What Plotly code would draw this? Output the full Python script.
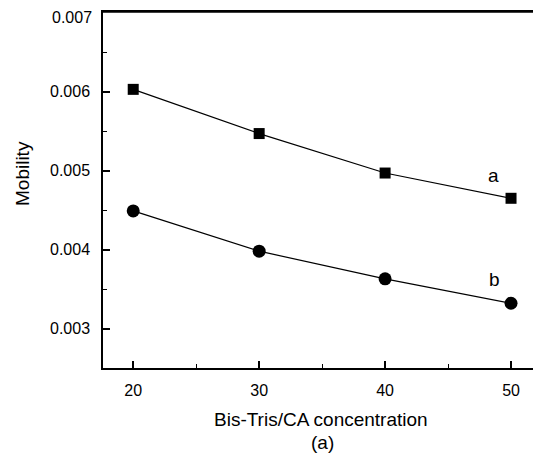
import plotly.graph_objects as go

conc = [20, 30, 40, 50]
mobility_a = [0.00603, 0.00547, 0.00497, 0.00465]
mobility_b = [0.00449, 0.00398, 0.00363, 0.00332]
x_ticks = [20, 30, 40, 50]
y_ticks = [0.003, 0.004, 0.005, 0.006, 0.007]
y_tick_text = ["0.003", "0.004", "0.005", "0.006", ""]
top_label = "0.007"

FONT = "Liberation Sans, Arial, sans-serif"
OFF = 8  # page body margin
L, R, T, B = 103 - OFF, 540 - OFF, 12 - OFF, 368 - OFF
W, H = 541 - OFF, 463 - OFF
pw, ph = R - L, B - T

def px(xp):
    return (xp - OFF - L) / pw

def py(yp):
    return (B - (yp - OFF)) / ph

fig = go.Figure()
fig.add_trace(go.Scatter(x=conc, y=mobility_a, mode="lines+markers", name="a",
                         line=dict(color="black", width=1.2),
                         marker=dict(symbol="square", size=11, color="black")))
fig.add_trace(go.Scatter(x=conc, y=mobility_b, mode="lines+markers", name="b",
                         line=dict(color="black", width=1.2),
                         marker=dict(symbol="circle", size=13, color="black")))

fig.add_annotation(x=48.6, y=0.00494, text="a", showarrow=False,
                   font=dict(size=19, color="black", family=FONT))
fig.add_annotation(x=48.7, y=0.00362, text="b", showarrow=False,
                   font=dict(size=19, color="black", family=FONT))

fig.update_layout(
    width=W, height=H,
    margin=dict(l=L, r=W - R, t=T, b=H - B, autoexpand=False),
    paper_bgcolor="white", plot_bgcolor="white",
    showlegend=False,
    font=dict(family=FONT, size=16, color="black"),
)
fig.update_xaxes(range=[17.6, 52.3], tickvals=x_ticks, ticks="inside", ticklen=7,
                 tickcolor="black", tickwidth=1.5, showline=True, linecolor="black",
                 linewidth=1.5, mirror=True, showgrid=False, zeroline=False,
                 ticklabelstandoff=7, automargin=False, ticklabeloverflow="allow",
                 minor=dict(dtick=5, ticks="inside", ticklen=4, tickcolor="black", tickwidth=1.2))
fig.update_yaxes(range=[0.0025, 0.00701], tickvals=y_ticks, ticktext=y_tick_text,
                 ticks="inside", ticklen=7, tickcolor="black", tickwidth=1.5,
                 showline=True, linecolor="black", linewidth=1.5, mirror=True,
                 showgrid=False, zeroline=False, ticklabelstandoff=8, automargin=False,
                 ticklabeloverflow="allow",
                 minor=dict(dtick=0.0005, ticks="inside", ticklen=4, tickcolor="black", tickwidth=1.2))

# plot frame (top and right edges)
fig.add_shape(type="line", xref="paper", yref="paper", x0=0, x1=1, y0=1, y1=1,
              line=dict(color="black", width=1.5))
fig.add_shape(type="line", xref="paper", yref="paper", x0=1, x1=1, y0=0, y1=1,
              line=dict(color="#555555", width=1))

# top tick label placed slightly lower so it is not clipped by the page edge
fig.add_annotation(xref="paper", yref="paper", x=px(94), y=py(17.5),
                   text=top_label, showarrow=False, xanchor="right", yanchor="middle",
                   font=dict(size=16, family=FONT, color="black"))

fig.add_annotation(xref="paper", yref="paper", x=px(321), y=py(420),
                   text="Bis-Tris/CA concentration", showarrow=False,
                   xanchor="center", yanchor="middle",
                   font=dict(size=19, family=FONT, color="black"))
fig.add_annotation(xref="paper", yref="paper", x=px(22), y=py(174),
                   text="Mobility", showarrow=False, textangle=-90,
                   xanchor="center", yanchor="middle",
                   font=dict(size=19, family=FONT, color="black"))
fig.add_annotation(xref="paper", yref="paper", x=px(322), y=py(442),
                   text="(a)", showarrow=False, xanchor="center", yanchor="middle",
                   font=dict(size=19, family=FONT, color="black"))

fig.write_html("out.html")
